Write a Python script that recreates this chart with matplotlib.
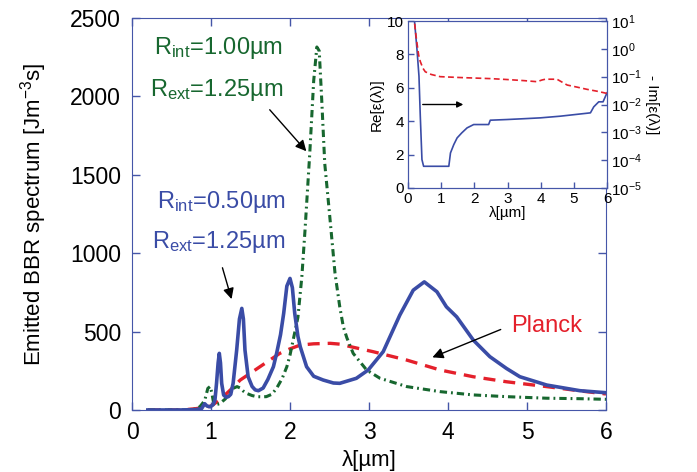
import numpy as np
import matplotlib
matplotlib.use("Agg")
import matplotlib.pyplot as plt

plt.rcParams['font.family'] = ['Liberation Sans', 'DejaVu Sans']
plt.rcParams['mathtext.fontset'] = 'custom'
plt.rcParams['mathtext.rm'] = 'Liberation Sans'
plt.rcParams['mathtext.it'] = 'Liberation Sans:italic'
plt.rcParams['mathtext.default'] = 'regular'

# main panel: emitted spectra, wavelength in um
blue_lam = [0.20, 0.60, 0.80, 0.88, 0.92, 0.95, 0.99, 1.03, 1.05, 1.07, 1.09, 1.105, 1.12, 1.135,
            1.16, 1.19, 1.22, 1.25, 1.28, 1.325, 1.36, 1.39, 1.41, 1.43, 1.47, 1.52, 1.56, 1.60,
            1.66, 1.72, 1.79, 1.83, 1.88, 1.92, 1.96, 2.00, 2.03, 2.06, 2.10, 2.13, 2.21, 2.30,
            2.42, 2.55, 2.63, 2.84, 2.99, 3.18, 3.39, 3.56, 3.70, 3.86, 3.98, 4.11, 4.32, 4.53,
            4.74, 4.91, 5.25, 5.67, 6.00]
blue_val = [0, 0, 2, 8, 40, 25, 20, 35, 64, 170, 300, 361, 300, 170,
            95, 82, 85, 100, 170, 382, 580, 648, 580, 382, 212, 150, 128, 123,
            140, 195, 276, 360, 480, 616, 790, 839, 780, 616, 470, 403, 276, 215,
            191, 172, 170, 202, 255, 372, 605, 764, 817, 754, 658, 594, 446, 340,
            265, 212, 159, 123, 110]

green_lam = [0.20, 0.70, 0.80, 0.86, 0.92, 0.96, 0.99, 1.01, 1.03, 1.07, 1.11, 1.18, 1.24, 1.28,
             1.33, 1.37, 1.41, 1.45, 1.52, 1.58, 1.64, 1.70, 1.77, 1.83, 1.90, 1.96, 2.00, 2.04,
             2.10, 2.15, 2.19, 2.25, 2.30, 2.34, 2.37, 2.40, 2.44, 2.50, 2.57, 2.63, 2.675, 2.72,
             2.80, 2.97, 3.14, 3.48, 3.90, 4.32, 4.74, 5.25, 5.67, 6.00]
green_val = [0, 0, 5, 21, 60, 138, 150, 110, 53, 35, 40, 70, 110, 138,
             149, 140, 120, 106, 92, 85, 84, 85, 100, 138, 200, 276, 350, 446,
             590, 850, 1146, 1635, 2100, 2315, 2290, 1995, 1571, 1253, 871, 658, 531, 460,
             361, 255, 202, 149, 117, 96, 85, 75, 72, 68]

planck_lam = [0.20, 0.60, 0.70, 0.80, 0.90, 1.00, 1.11, 1.25, 1.37, 1.50, 1.62, 1.75, 1.87, 2.00,
              2.13, 2.30, 2.51, 2.63, 2.80, 3.05, 3.48, 3.90, 4.32, 4.74, 5.25, 5.67, 6.00]
planck_val = [0, 0, 3, 8, 15, 25, 64, 130, 191, 235, 276, 320, 361, 390,
              414, 422, 425, 420, 400, 372, 318, 255, 212, 180, 149, 122, 102]

# inset: dielectric function
re_lam = [0.20, 0.27, 0.33, 0.37, 0.42, 0.47, 1.23, 1.28, 1.38, 1.48, 1.62, 1.78, 1.98, 2.43,
          2.48, 2.98, 3.50, 3.99, 4.59, 5.50, 5.60, 5.75, 5.88, 6.00]
re_eps = [9.9, 8.3, 6.7, 4.3, 1.7, 1.3, 1.3, 2.1, 2.6, 3.0, 3.3, 3.6, 3.8, 3.8,
          4.06, 4.1, 4.15, 4.2, 4.3, 4.5, 4.86, 5.16, 5.16, 5.7]
im_lam = [0.20, 0.24, 0.27, 0.32, 0.37, 0.45, 0.52, 0.70, 0.97, 1.58, 2.50, 2.98, 3.50, 3.89,
          4.04, 4.14, 4.49, 4.80, 5.10, 5.40, 5.70, 6.00]
im_eps = [8, 3, 1.6, 0.6, 0.35, 0.2, 0.15, 0.12, 0.1, 0.093, 0.085, 0.079, 0.072, 0.066,
          0.076, 0.081, 0.081, 0.05, 0.042, 0.035, 0.03, 0.025]

BLUE = '#3a4ca6'
GREEN = '#17672f'
RED = '#e4202b'
SPINE = '#4556a8'

fig = plt.figure(figsize=(6.97, 4.72), dpi=100)
ax = fig.add_axes([0.1894, 0.1314, 0.680, 0.8305])

ax.plot(planck_lam, planck_val, color=RED, lw=2.4, dashes=(3.6, 2.4))
ax.plot(green_lam, green_val, color=GREEN, lw=2.2, dashes=(2.4, 1.3, 0.6, 1.3))
ax.plot(blue_lam, blue_val, color=BLUE, lw=2.6)

ax.set_xlim(0, 6)
ax.set_ylim(0, 2500)
ax.set_xticks(range(7))
ax.set_yticks(range(0, 2501, 500))
for s in ax.spines.values():
    s.set_color(SPINE)
ax.tick_params(direction='in', length=6, width=1, color=SPINE, labelsize=16.5,
               top=True, right=True, pad=8)
ax.set_xlabel('λ[µm]', fontsize=16, labelpad=4)
ax.set_ylabel('Emitted BBR spectrum [Jm$^{-3}$s]', fontsize=16, labelpad=15)

arrow = dict(arrowstyle='-|>', color='black', lw=1, mutation_scale=16)
ax.text(0.28, 2270, 'R$_{int}$=1.00µm', color=GREEN, fontsize=17)
ax.text(0.23, 2000, 'R$_{ext}$=1.25µm', color=GREEN, fontsize=17)
ax.annotate('', xy=(2.23, 1637), xytext=(1.72, 1928), arrowprops=arrow)
ax.text(0.32, 1290, 'R$_{int}$=0.50µm', color=BLUE, fontsize=17)
ax.text(0.25, 1030, 'R$_{ext}$=1.25µm', color=BLUE, fontsize=17)
ax.annotate('', xy=(1.27, 690), xytext=(1.135, 924), arrowprops=arrow)
ax.text(4.80, 500, 'Planck', color=RED, fontsize=17)
ax.annotate('', xy=(3.77, 329), xytext=(4.70, 520), arrowprops=arrow)

# inset
axi = fig.add_axes([0.5854, 0.6017, 0.2855, 0.3538])
axi.plot(re_lam, re_eps, color=BLUE, lw=1.2)
axi.set_xlim(0, 6)
axi.set_ylim(0, 10)
axi.set_xticks(range(7))
axi.set_yticks(range(0, 11, 2))
axi.tick_params(direction='in', length=4, width=1, color=SPINE, labelsize=11, pad=3)
axi.set_xlabel('λ[µm]', fontsize=11, labelpad=0)
axi.set_ylabel('Re[ε(λ)]', fontsize=11, labelpad=2)
axi.annotate('', xy=(1.75, 5.0), xytext=(0.36, 5.0),
             arrowprops=dict(arrowstyle='-|>', color='black', lw=1, mutation_scale=9))

axr = axi.twinx()
axr.plot(im_lam, im_eps, color=RED, lw=1.2, dashes=(3.5, 2))
axr.set_yscale('log')
axr.set_ylim(1e-5, 1e1)
axr.set_yticks([1e-5, 1e-4, 1e-3, 1e-2, 1e-1, 1e0, 1e1])
axr.minorticks_off()
axr.tick_params(direction='in', length=4, width=1, color=SPINE, labelsize=11, pad=3)
axr.set_ylabel('- Im[ε(λ)]', fontsize=11, rotation=-90, labelpad=12)
for a in (axi, axr):
    for s in a.spines.values():
        s.set_color(SPINE)

fig.savefig('out.png', dpi=100)
